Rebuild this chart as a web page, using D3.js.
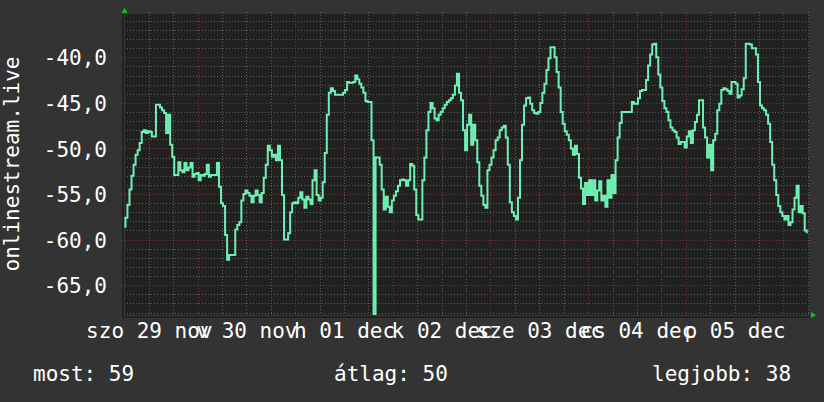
<!DOCTYPE html>
<html><head><meta charset="utf-8">
<script src="https://cdn.jsdelivr.net/npm/d3@7"></script>
<style>
html,body{margin:0;padding:0;background:#333333;}
svg{display:block;}
text{font-family:"DejaVu Sans Mono",monospace;}
</style></head><body>
<svg id="chart" width="824" height="402"></svg>
<script>
// ---- data ----
const seriesName = "onlinestream.live";
const startTime = Date.UTC(2025, 10, 29, 6, 0);   // szo 29 nov 06:00
const stepMinutes = 30;
const values = [
 -58.6,-57.6,-56.2,-54.5,-53.0,-51.8,-50.7,-50.2,-49.4,-48.2,-48.0,-48.3,-48.1,-48.2,-48.7,-48.7,-45.2,-45.2,-45.5,-45.8,-46.1,-48.3,-46.3,-49.6,
 -50.9,-52.9,-52.9,-51.5,-52.4,-52.6,-51.6,-52.4,-52.1,-51.6,-53.1,-52.8,-52.7,-53.5,-52.9,-53.0,-52.8,-51.8,-53.1,-52.9,-52.9,-52.9,-51.6,-54.2,
 -56.0,-56.3,-59.5,-62.2,-61.7,-61.7,-61.7,-58.9,-58.4,-58.1,-55.7,-55.0,-54.6,-54.9,-55.2,-55.9,-55.2,-54.6,-55.1,-55.9,-54.9,-53.2,-51.8,-49.7,
 -50.2,-50.9,-50.7,-51.3,-49.7,-51.3,-55.1,-60.0,-60.0,-59.3,-57.0,-56.0,-55.9,-56.0,-55.4,-54.8,-55.6,-56.5,-55.3,-55.6,-56.1,-53.5,-52.4,-55.1,
 -55.7,-55.4,-53.7,-50.5,-46.3,-43.9,-43.4,-43.7,-44.1,-44.1,-44.1,-44.1,-43.9,-43.6,-42.7,-42.8,-42.8,-42.7,-42.0,-42.4,-42.9,-43.3,-43.9,-44.8,
 -44.9,-44.9,-49.1,-68.2,-51.0,-51.0,-51.8,-54.5,-56.7,-55.3,-56.4,-57.0,-55.7,-55.2,-54.7,-54.1,-53.5,-53.4,-53.5,-54.1,-53.5,-51.7,-51.9,-54.5,
 -57.3,-57.8,-57.8,-53.5,-51.0,-48.0,-46.0,-45.0,-45.6,-46.7,-46.9,-46.3,-46.0,-45.6,-45.2,-44.9,-44.7,-44.5,-44.1,-43.1,-41.8,-43.9,-44.7,-48.0,
 -50.2,-47.4,-46.3,-49.6,-47.4,-49.1,-51.5,-54.1,-55.2,-56.2,-56.5,-52.4,-51.8,-51.0,-50.2,-49.1,-48.8,-48.0,-47.7,-47.5,-48.8,-51.8,-55.9,-57.0,
 -57.4,-57.8,-55.4,-51.3,-47.4,-45.3,-44.5,-44.4,-45.1,-45.8,-46.1,-46.2,-46.0,-45.0,-43.9,-42.9,-41.4,-40.1,-38.9,-38.9,-40.0,-41.6,-43.3,-46.0,
 -47.3,-48.1,-48.5,-49.1,-50.0,-50.7,-49.7,-50.6,-53.2,-54.4,-56.1,-53.8,-55.1,-53.5,-55.1,-53.5,-55.7,-54.6,-53.6,-55.7,-55.2,-56.4,-53.5,-55.4,
 -52.9,-54.9,-51.3,-48.8,-47.2,-46.0,-46.0,-46.0,-46.0,-46.0,-44.9,-45.1,-45.1,-44.5,-43.7,-43.6,-43.6,-42.5,-40.9,-39.7,-38.6,-38.5,-40.0,-41.9,
 -43.3,-44.8,-45.6,-46.0,-46.9,-47.7,-48.0,-48.2,-48.8,-49.5,-49.3,-49.3,-49.9,-48.7,-48.1,-49.4,-48.0,-47.1,-46.3,-44.7,-44.7,-47.7,-48.8,-51.0,
 -49.6,-52.4,-49.1,-48.4,-45.8,-45.1,-43.6,-43.4,-43.5,-43.7,-44.0,-42.7,-42.7,-42.9,-44.4,-44.2,-43.5,-42.3,-38.5,-38.5,-38.6,-39.0,-39.0,-39.7,
 -42.7,-45.3,-45.6,-45.8,-46.3,-47.3,-49.3,-51.8,-53.5,-55.1,-56.3,-57.0,-57.4,-57.8,-57.4,-58.4,-58.1,-56.7,-55.4,-54.1,-57.0,-56.3,-57.1,-59.0,
 -59.2
];
const yTickValues = [-65, -60, -55, -50, -45, -40];
const xTickLabels = ["szo 29 nov", "v 30 nov", "h 01 dec", "k 02 dec", "sze 03 dec", "cs 04 dec", "p 05 dec"];
const legendLabels = ["most", "átlag", "legjobb"];
const legendValues = [59, 50, 38];

// ---- layout ----
const W = 824, H = 402;
const plot = {x0: 124, x1: 809, y0: 14, y1: 315};
const svg = d3.select("#chart");
svg.append("rect").attr("width", W).attr("height", H).attr("fill", "#333333");

const HOUR = 3600e3;
const data = values.map((v, i) => ({t: new Date(startTime + i * stepMinutes * 60e3), v}));

const x = d3.scaleUtc()
  .domain([new Date(Date.UTC(2025, 10, 29, 5, 54)), new Date(Date.UTC(2025, 11, 6, 6, 18))])
  .range([plot.x0, plot.x1]);
const y = d3.scaleLinear().domain([-68.27, -35.25]).range([plot.y1, plot.y0]);

svg.append("rect").attr("x", plot.x0 - 2).attr("y", plot.y0)
  .attr("width", plot.x1 - plot.x0 + 2).attr("height", plot.y1 - plot.y0 + 3)
  .attr("fill", "#212121");

// grid
const gGrid = svg.append("g");
const minorY = d3.range(-68, -35, 1).filter(v => v % 5 !== 0);
gGrid.selectAll(".hy").data(minorY).join("line")
  .attr("x1", plot.x0).attr("x2", plot.x1 + 2)
  .attr("y1", d => Math.round(y(d)) + 0.5).attr("y2", d => Math.round(y(d)) + 0.5)
  .attr("stroke", "#5e5e5e").attr("stroke-dasharray", "1,2");
gGrid.selectAll(".hY").data(yTickValues).join("line")
  .attr("x1", plot.x0 - 2).attr("x2", plot.x1 + 2)
  .attr("y1", d => Math.round(y(d)) + 0.5).attr("y2", d => Math.round(y(d)) + 0.5)
  .attr("stroke", "#7a3535").attr("stroke-dasharray", "1,2");

const minorX = d3.utcHour.every(6).range(x.domain()[0], x.domain()[1]).filter(d => d.getUTCHours() !== 0);
const majorX = d3.utcDay.range(x.domain()[0], x.domain()[1]);
gGrid.selectAll(".vx").data(minorX).join("line")
  .attr("x1", d => Math.round(x(d)) + 0.5).attr("x2", d => Math.round(x(d)) + 0.5)
  .attr("y1", plot.y0 - 2).attr("y2", plot.y1 + 2)
  .attr("stroke", "#5e5e5e").attr("stroke-dasharray", "1,2");
gGrid.selectAll(".vX").data(majorX).join("line")
  .attr("x1", d => Math.round(x(d)) + 0.5).attr("x2", d => Math.round(x(d)) + 0.5)
  .attr("y1", plot.y0 - 2).attr("y2", plot.y1 + 2)
  .attr("stroke", "#7a3535").attr("stroke-dasharray", "1,2");

// axes lines
svg.append("line").attr("x1", plot.x0 + 0.5).attr("x2", plot.x0 + 0.5)
  .attr("y1", plot.y0 - 2).attr("y2", plot.y1 + 1).attr("stroke", "#3a3a3a");
svg.append("line").attr("x1", plot.x0).attr("x2", plot.x1 + 2)
  .attr("y1", plot.y1 + 0.5).attr("y2", plot.y1 + 0.5).attr("stroke", "#3a3a3a");

// data line
svg.append("clipPath").attr("id", "clip").append("rect")
  .attr("x", plot.x0).attr("y", plot.y0).attr("width", plot.x1 - plot.x0).attr("height", plot.y1 - plot.y0);
const line = d3.line().x(d => x(d.t)).y(d => y(d.v)).curve(d3.curveStep);
svg.append("path").datum(data).attr("clip-path", "url(#clip)")
  .attr("d", line).attr("fill", "none").attr("stroke", "#6ef0b4")
  .attr("stroke-width", 2).attr("stroke-linejoin", "miter");

// arrows
svg.append("path").attr("d", `M${plot.x0 - 2.5},${plot.y0 - 1} L${plot.x0 + 0.5},${plot.y0 - 6} L${plot.x0 + 3.5},${plot.y0 - 1} Z`).attr("fill", "#00d000");
svg.append("path").attr("d", `M${plot.x1 + 2},${plot.y1 - 3} L${plot.x1 + 7},${plot.y1} L${plot.x1 + 2},${plot.y1 + 3} Z`).attr("fill", "#00d000");

// y axis
const yAxis = d3.axisLeft(y).tickValues(yTickValues).tickSize(0).tickPadding(0)
  .tickFormat(d => d3.format(".1f")(d).replace("−", "-").replace(".", ","));
const gy = svg.append("g").attr("transform", `translate(107,0)`).call(yAxis);
gy.select(".domain").remove();
gy.selectAll("text").attr("font-family", "DejaVu Sans Mono").attr("font-size", 21)
  .attr("fill", "#ffffff").attr("dy", "0.36em");

// x axis (labels centered at noon of each day)
const xTickDates = xTickLabels.map((_, i) => new Date(Date.UTC(2025, 10, 29 + i, 12)));
const xAxis = d3.axisBottom(x).tickValues(xTickDates).tickSize(0).tickPadding(0)
  .tickFormat((d, i) => xTickLabels[i]);
const gx = svg.append("g").attr("transform", `translate(0,338)`).call(xAxis);
gx.select(".domain").remove();
gx.selectAll("text").attr("font-family", "DejaVu Sans Mono").attr("font-size", 21)
  .attr("fill", "#ffffff").attr("dy", 0).attr("y", 0);

// vertical title
svg.append("text").attr("transform", "translate(19,164) rotate(-90)")
  .attr("text-anchor", "middle").attr("font-size", 21).attr("fill", "#ffffff")
  .text(seriesName);

// legend
const legendX = [33, 334, 652];
svg.selectAll(".leg").data(legendLabels).join("text")
  .attr("x", (d, i) => legendX[i]).attr("y", 381)
  .attr("font-size", 21).attr("fill", "#ffffff")
  .text((d, i) => `${d}: ${legendValues[i]}`);
</script>
</body></html>
